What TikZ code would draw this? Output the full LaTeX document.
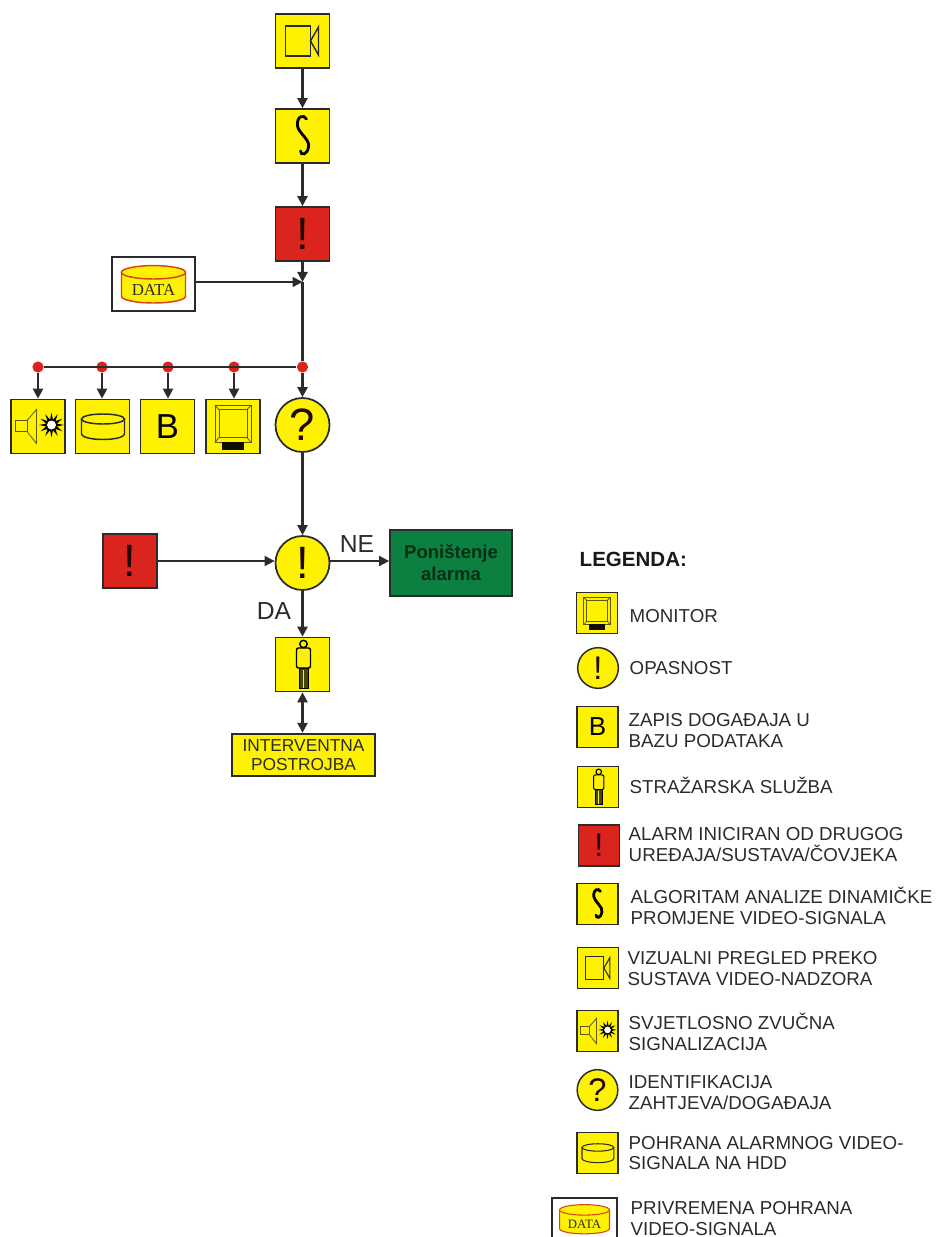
\documentclass[tikz,border=0pt]{standalone}
\usepackage{fontspec}
\setmainfont{Liberation Sans}
\newfontfamily\dataserif{Liberation Serif}
\usetikzlibrary{arrows.meta}
\definecolor{signyellow}{HTML}{FFF200}
\definecolor{signred}{HTML}{DC241F}
\definecolor{signgreen}{HTML}{0B8040}
\definecolor{signline}{HTML}{2B2B2B}
\definecolor{signolive}{HTML}{5F5A10}
\definecolor{datared}{HTML}{D8431C}
\tikzset{
  mainbox/.style={draw=signline, line width=1.3pt, fill=signyellow, minimum size=40.5pt, inner sep=0pt},
  mainround/.style={draw=signline, line width=1.3pt, fill=signyellow, circle, minimum size=40.5pt, inner sep=0pt},
  legbox/.style={draw=signline, line width=1.1pt, fill=signyellow, minimum size=30.5pt, inner sep=0pt},
  leground/.style={draw=signline, line width=1.1pt, fill=signyellow, circle, minimum size=30.5pt, inner sep=0pt},
  bigmark/.style={font=\fontsize{34}{34}\selectfont, text=black!85!signred},
  smallmark/.style={font=\fontsize{24.5}{25}\selectfont, text=black!85!signred},
  reddot/.style={circle, fill=signred, minimum size=8.4pt, inner sep=0pt},
  legtext/.style={anchor=west, align=left, inner sep=0pt, text=signline, font=\fontsize{14.05}{15.6}\selectfont},
  arrowline/.style={draw=signline, line width=1.7pt, -{Triangle[length=7.5pt,width=7.5pt]}},
  plainline/.style={draw=signline, line width=1.7pt},
  camicon/.pic={
    \draw[signline] (-17,-15) rectangle (8,15);
    \draw[signline] (8,0) -- (16,-14) -- (16,14) -- cycle;
  },
  wavicon/.pic={
    \draw[black, line width=2.1pt, line cap=round] (4,-17) .. controls (1,-22) and (-6,-20) .. (-5,-10) .. controls (-4,-3) and (8,4) .. (6,11) .. controls (5,19) and (-2,20) .. (-2,15);
  },
  speakicon/.pic={
    \draw[signolive, line width=.6pt] (-23,-6) rectangle (-11,5);
    \draw[signolive, line width=.6pt] (-11,-6) -- (-1.5,-17) -- (-1.5,17) -- (-11,5);
    \fill[black] plot[samples=25, domain=0:24, variable=\k] ({13.5+(mod(\k,2)==0?12.5:5.5)*cos(\k*15)}, {-1.5+(mod(\k,2)==0?12.5:5.5)*sin(\k*15)}) -- cycle;
    \fill[white] (13.5,-1.5) circle (4.5);
  },
  hddicon/.pic={
    \draw[signline] (-21,-7.5) -- (-21,7.5) arc[start angle=180, end angle=0, x radius=21.5, y radius=5.5] -- (22,-7.5);
    \draw[signline] (0.5,-7.5) ellipse [x radius=21.5, y radius=5];
  },
  screenicon/.pic={
    \draw[signolive, line width=.6pt] (-18,-21) rectangle (18,16);
    \draw[signolive, line width=.6pt] (-14,-17) rectangle (14,11);
    \draw[signolive, line width=.6pt] (-18,-21) -- (-14,-17) (18,-21) -- (14,-17) (-18,16) -- (-14,11) (18,16) -- (14,11);
    \fill[black!85!signolive] (-11,15.5) rectangle (11,23);
  },
  guardicon/.pic={
    \draw[black] (1,-20.5) circle (3.7);
    \draw[black, rounded corners=1.5] (-6,-16.5) rectangle (8,3.5);
    \fill[signolive!75!black] (-3.3,3.5) rectangle (5.7,23.5);
    \draw[signyellow, line width=.5pt] (1,5) -- (1,23.5);
    \draw[black, line width=.5pt] (-3.3,3.5) rectangle (5.7,23.5);
  },
  dataicon/.pic={
    \draw[datared, fill=signyellow] (-32,-11.7) -- (-32,12.3) arc[start angle=180, end angle=0, x radius=32, y radius=6.7] -- (32,-11.7);
    \draw[datared, fill=signyellow] (0,-11.7) ellipse [x radius=32, y radius=6.7];
  }
}
\begin{document}
\begin{tikzpicture}[x=0.75pt, y=-0.75pt, line width=1.1pt]
\useasboundingbox (0,0) rectangle (935,1237);
\clip (0,0) rectangle (935,1237);
\node[mainbox] (cam) at (302.5,41) {};
\node[mainbox] (wav) at (302.5,136) {};
\node[mainbox, fill=signred, bigmark] (alarm) at (302.5,234) {!};
\node[draw=signline, line width=1.2pt, fill=white, minimum width=62pt, minimum height=40.5pt] (datamain) at (153.5,284) {};
\coordinate (jdata) at (302.5,282);
\node[reddot] (dot1) at (38,367) {};
\node[reddot] (dot2) at (102,367) {};
\node[reddot] (dot3) at (168,367) {};
\node[reddot] (dot4) at (234,367) {};
\node[reddot] (dot5) at (302.5,367) {};
\node[mainbox] (speak) at (38,426.5) {};
\node[mainbox] (hdd) at (102.5,426.5) {};
\node[mainbox, font=\fontsize{26}{26}\selectfont] (base) at (167.5,426.5) {B};
\node[mainbox] (screen) at (233,426.5) {};
\node[mainround, bigmark] (ident) at (302.5,425) {?};
\node[mainround, bigmark] (danger) at (302.5,563) {!};
\node[mainbox, fill=signred, bigmark] (alarmb) at (130,561) {!};
\node[draw=signline, line width=1.3pt, fill=signgreen, minimum width=91.5pt, minimum height=49.5pt, align=center, inner sep=0pt, font=\fontsize{13.9}{16.5}\selectfont\bfseries, text=black!65!signgreen] (cancel) at (451,563) {Poništenje\\alarma};
\node[mainbox] (guard) at (302.5,664.5) {};
\node[draw=signline, line width=1.3pt, fill=signyellow, minimum width=107pt, minimum height=32pt, align=center, inner sep=0pt, text=signline, font=\fontsize{13}{14.6}\selectfont] (squad) at (303.5,755) {INTERVENTNA\\POSTROJBA};
\node[text=signline, font=\fontsize{18.5}{20}\selectfont, inner sep=0pt] (ne) at (357,544) {NE};
\node[text=signline, font=\fontsize{18.5}{20}\selectfont, inner sep=0pt] (da) at (274,611) {DA};
\path (cam) pic {camicon};
\path (wav) pic {wavicon};
\path (datamain) pic {dataicon};
\node[font=\fontsize{12.6}{13}\selectfont\dataserif, text=signline, inner sep=0pt] (datatext) at (153.5,290) {DATA};
\path (speak) pic {speakicon};
\path (hdd) pic {hddicon};
\path (screen) pic {screenicon};
\path (guard) pic {guardicon};
\draw[arrowline] (cam) -- (wav);
\draw[arrowline] (wav) -- (alarm);
\draw[arrowline] (alarm) -- (jdata);
\draw[arrowline, line width=1.3pt] (datamain.east |- jdata) -- (jdata);
\draw[plainline] (jdata) -- (dot5);
\draw[plainline, line width=1.4pt] (dot1) -- (dot5);
\draw[arrowline] (dot1) -- (speak);
\draw[arrowline] (dot2) -- (dot2 |- hdd.north);
\draw[arrowline] (dot3) -- (dot3 |- base.north);
\draw[arrowline] (dot4) -- (dot4 |- screen.north);
\draw[arrowline] (dot5) -- (ident);
\draw[arrowline] (ident) -- (danger);
\draw[arrowline, line width=1.3pt] (alarmb.east) -- (alarmb.east -| danger.west);
\draw[arrowline, line width=1.3pt] (danger.east |- alarmb.east) -- (cancel.west |- alarmb.east);
\draw[arrowline] (danger) -- (guard);
\draw[arrowline, {Triangle[length=7.5pt,width=7.5pt]}-{Triangle[length=7.5pt,width=7.5pt]}] (guard) -- (guard |- squad.north);
\node[anchor=west, inner sep=0pt, text=black!90, font=\fontsize{15.4}{18}\selectfont\bfseries] (legend) at (579,559) {LEGENDA:};
\node[legbox] (leg1) at (597,613) {};
\path (leg1) pic[scale=.74, line width=.8pt] {screenicon};
\node[legtext] (txt1) at (629,616) {MONITOR};
\node[leground, smallmark] (leg2) at (598,668) {!};
\node[legtext] (txt2) at (629,668) {OPASNOST};
\node[legbox, font=\fontsize{19.5}{20}\selectfont] (leg3) at (597.5,727) {B};
\node[legtext] (txt3) at (628,730.5) {ZAPIS DOGAĐAJA U\\BAZU PODATAKA};
\node[legbox] (leg4) at (598,787) {};
\path (leg4) pic[scale=.74, line width=.8pt] {guardicon};
\node[legtext] (txt4) at (629,785) {STRAŽARSKA SLUŽBA};
\node[legbox, fill=signred, smallmark] (leg5) at (599,845.5) {!};
\node[legtext] (txt5) at (628,844.5) {ALARM INICIRAN OD DRUGOG\\UREĐAJA/SUSTAVA/ČOVJEKA};
\node[legbox] (leg6) at (597.5,904) {};
\path (leg6) pic[scale=.74, line width=.8pt] {wavicon};
\node[legtext] (txt6) at (630,905.5) {ALGORITAM ANALIZE DINAMIČKE\\PROMJENE VIDEO-SIGNALA};
\node[legbox] (leg7) at (598,968) {};
\path (leg7) pic[scale=.74, line width=.8pt] {camicon};
\node[legtext] (txt7) at (627,968.5) {VIZUALNI PREGLED PREKO\\SUSTAVA VIDEO-NADZORA};
\node[legbox] (leg8) at (597.5,1031) {};
\path (leg8) pic[scale=.74, line width=.8pt] {speakicon};
\node[legtext] (txt8) at (628,1031.5) {SVJETLOSNO ZVUČNA\\SIGNALIZACIJA};
\node[leground, smallmark] (leg9) at (597.5,1090) {?};
\node[legtext] (txt9) at (628,1092.5) {IDENTIFIKACIJA\\ZAHTJEVA/DOGAĐAJA};
\node[legbox] (leg10) at (597.5,1153) {};
\path (leg10) pic[scale=.74, line width=.8pt] {hddicon};
\node[legtext] (txt10) at (628,1153) {POHRANA ALARMNOG VIDEO-\\SIGNALA NA HDD};
\node[draw=signline, line width=1.1pt, fill=white, minimum width=48.5pt, minimum height=31.5pt] (leg11) at (584.5,1219) {};
\path (leg11) pic[scale=.78, line width=.8pt] {dataicon};
\node[font=\fontsize{9.6}{10}\selectfont\dataserif, text=signline, inner sep=0pt] (legdata) at (584.5,1224) {DATA};
\node[legtext] (txt11) at (630,1218.5) {PRIVREMENA POHRANA\\VIDEO-SIGNALA};
\end{tikzpicture}
\end{document}
